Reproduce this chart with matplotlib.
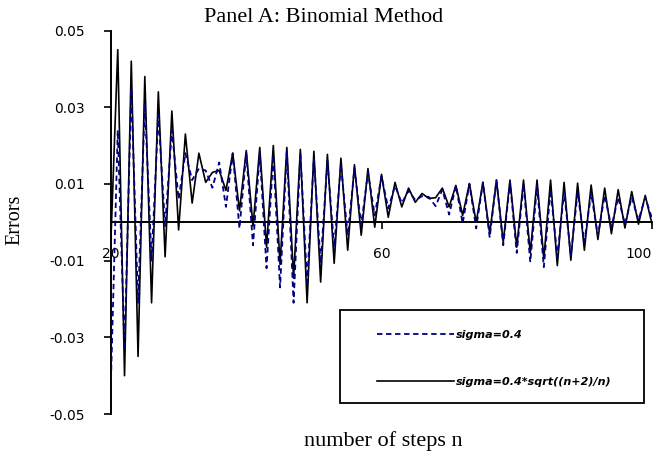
import matplotlib
matplotlib.use("Agg")
import matplotlib.pyplot as plt
from matplotlib.patches import Rectangle

# ---- data ----
steps = list(range(20, 101))
err_sigma = [  # sigma=0.4 (blue dashed)
    -0.041, 0.024, -0.033, 0.035, -0.021, 0.031, -0.010, 0.028, -0.001, 0.024,
    0.006, 0.018, 0.011, 0.014, 0.0135, 0.009, 0.0156, 0.004, 0.018, -0.0016,
    0.018, -0.006, 0.018, -0.012, 0.0175, -0.017, 0.0185, -0.021, 0.018, -0.0156,
    0.0167, -0.0107, 0.016, -0.0065, 0.015, -0.0034, 0.014, -0.0008, 0.013, 0.0018,
    0.012, 0.0036, 0.0095, 0.005, 0.0082, 0.0058, 0.0068, 0.0066, 0.0042, 0.0085,
    0.002, 0.0095, -0.0003, 0.010, -0.0016, 0.0104, -0.004, 0.011, -0.006, 0.0105,
    -0.008, 0.010, -0.0104, 0.0095, -0.0117, 0.0085, -0.009, 0.008, -0.0086, 0.0078,
    -0.0052, 0.0075, -0.0035, 0.007, -0.0013, 0.0065, -0.0005, 0.0065, 0.0005, 0.0065,
    0.001,
]
err_adj = [  # sigma=0.4*sqrt((n+2)/n) (black solid)
    -0.004, 0.045, -0.040, 0.042, -0.035, 0.038, -0.021, 0.034, -0.009, 0.029,
    -0.002, 0.023, 0.005, 0.018, 0.0104, 0.013, 0.0135, 0.0083, 0.018, 0.003,
    0.0187, -0.001, 0.0195, -0.0065, 0.020, -0.011, 0.0195, -0.0146, 0.019, -0.021,
    0.0185, -0.0156, 0.0177, -0.0107, 0.0167, -0.0073, 0.015, -0.0034, 0.014, -0.0013,
    0.0125, 0.0013, 0.0104, 0.004, 0.0089, 0.0052, 0.0075, 0.0062, 0.0064, 0.0089,
    0.004, 0.0096, 0.0018, 0.0101, 0.0, 0.0104, -0.003, 0.011, -0.0052, 0.011,
    -0.0065, 0.011, -0.008, 0.011, -0.0095, 0.011, -0.0113, 0.0104, -0.0099, 0.0102,
    -0.0073, 0.0097, -0.0045, 0.0089, -0.003, 0.0085, -0.0015, 0.008, -0.0005, 0.007,
    -0.0005,
]
series_labels = ["sigma=0.4", "sigma=0.4*sqrt((n+2)/n)"]
y_ticks = [-0.05, -0.03, -0.01, 0.01, 0.03, 0.05]
y_tick_labels = ["-0.05", "-0.03", "-0.01", "0.01", "0.03", "0.05"]
x_ticks = [20, 60, 100]
x_tick_labels = ["20", "60", "100"]

W, H = 664, 465
fig = plt.figure(figsize=(W / 100, H / 100), dpi=100)
ax = fig.add_axes([111 / W, 1 - 414 / H, (652 - 111) / W, (414 - 30.5) / H])

ax.plot(steps, err_adj, color="black", lw=1.2, zorder=3, label=series_labels[1])
ax.plot(steps, err_sigma, color="#000080", lw=1.3, ls=(0, (3, 2)), zorder=4,
        label=series_labels[0])

ax.set_xlim(20, 100)
ax.set_ylim(-0.05, 0.05)
for s in ("top", "right"):
    ax.spines[s].set_visible(False)
ax.spines["bottom"].set_position(("data", 0))
ax.spines["bottom"].set_linewidth(1.4)
ax.spines["left"].set_linewidth(1.4)

ax.set_yticks(y_ticks)
ax.set_yticklabels(y_tick_labels, family="DejaVu Sans", fontsize=10)
ax.set_xticks(x_ticks)
ax.set_xticklabels(x_tick_labels, family="DejaVu Sans", fontsize=10)
ax.tick_params(axis="y", direction="out", length=5, width=1.2, pad=14)
ax.tick_params(axis="x", direction="out", length=5, width=1.2, pad=13)
xl = ax.get_xticklabels()
xl[0].set_x(19.6)
xl[-1].set_horizontalalignment("right")

serif = "Liberation Serif"
fig.text(324 / W, 1 - 17 / H, "Panel A: Binomial Method", family=serif,
         fontsize=16, ha="center", va="center")
fig.text(15 / W, 1 - 220 / H, "Errors", family=serif, fontsize=14.5,
         rotation=90, ha="center", va="center")
fig.text(383 / W, 1 - 441 / H, "number of steps n", family=serif,
         fontsize=16, ha="center", va="center")

# legend frame
fig.patches.append(Rectangle((340 / W, 1 - 403 / H), 304 / W, 93 / H,
                             transform=fig.transFigure, fill=False,
                             lw=1.3, ec="black"))
h_adj, h_sig = ax.get_lines()
leg = ax.legend([h_sig, h_adj], series_labels, frameon=False,
                loc="upper left", bbox_to_anchor=(377 / W, 1 - 330 / H),
                bbox_transform=fig.transFigure, borderpad=0, borderaxespad=0,
                handlelength=6.9, handletextpad=0.2, labelspacing=3.3,
                prop={"family": "DejaVu Sans", "size": 8, "weight": "bold",
                      "style": "italic"})

fig.savefig("out.png", dpi=100)
